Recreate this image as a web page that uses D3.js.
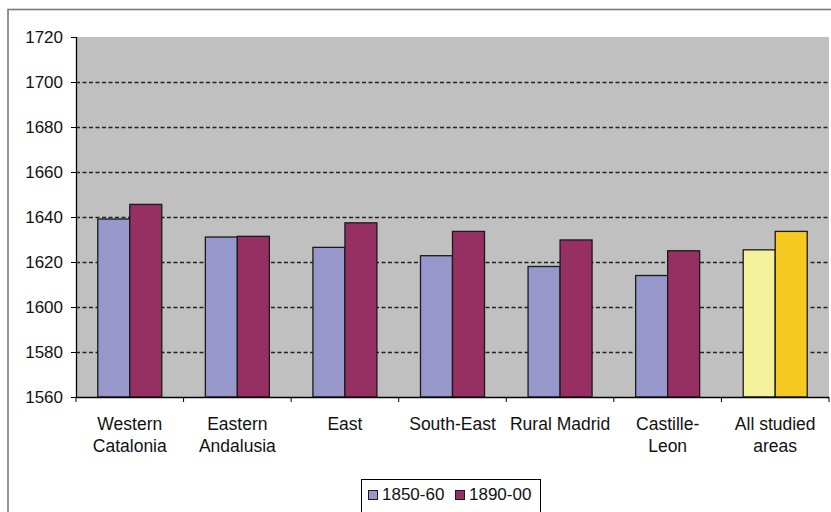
<!DOCTYPE html>
<html>
<head>
<meta charset="utf-8">
<script src="https://cdn.jsdelivr.net/npm/d3@7"></script>
<style>
  html, body { margin: 0; padding: 0; background: #fff; }
  svg { display: block; font-family: "Liberation Sans", Arial, sans-serif; }
</style>
</head>
<body>
<svg id="chart" width="831" height="512"></svg>
<script>
// Average heights by region and period
const categories = [
  ["Western", "Catalonia"],
  ["Eastern", "Andalusia"],
  ["East"],
  ["South-East"],
  ["Rural Madrid"],
  ["Castille-", "Leon"],
  ["All studied", "areas"]
];
const seriesNames = ["1850-60", "1890-00"];
const values1850 = [1639.1, 1631.1, 1626.5, 1622.8, 1618.0, 1614.0, 1625.4];
const values1890 = [1645.6, 1631.4, 1637.4, 1633.6, 1629.8, 1625.0, 1633.6];
const yTicks = [1560, 1580, 1600, 1620, 1640, 1660, 1680, 1700, 1720];

const seriesColors = ["#9797CB", "#962F62"];
const totalColors = ["#F3F19B", "#F6C921"];

const svg = d3.select("#chart");
const plot = { left: 76, right: 829, top: 37, bottom: 397 };

// Outer chart frame
svg.append("rect")
  .attr("x", 8).attr("y", 9.5)
  .attr("width", 840).attr("height", 520)
  .attr("fill", "#fff").attr("stroke", "#7a7a7a").attr("stroke-width", 1.6);

// Plot area background
svg.append("rect")
  .attr("x", plot.left).attr("y", plot.top)
  .attr("width", plot.right - plot.left).attr("height", plot.bottom - plot.top)
  .attr("fill", "#C0C0C0");

const y = d3.scaleLinear().domain([1560, 1720]).range([plot.bottom, plot.top]);
const pad = 0.405;
const x0 = d3.scaleBand()
  .domain(d3.range(categories.length))
  .range([plot.left, plot.right])
  .paddingInner(pad).paddingOuter(pad / 2);
const x1 = d3.scaleBand().domain([0, 1]).range([0, x0.bandwidth()]);

// Dashed gridlines
svg.append("g").selectAll("line")
  .data(yTicks.filter(t => t > 1560 && t < 1720))
  .join("line")
  .attr("x1", plot.left).attr("x2", plot.right)
  .attr("y1", d => y(d) + 0.5).attr("y2", d => y(d) + 0.5)
  .attr("stroke", "#222").attr("stroke-width", 1.5)
  .attr("stroke-dasharray", "4,2.5");

// Bars
const rows = categories.map((c, i) => [values1850[i], values1890[i]]);
const groups = svg.append("g").selectAll("g")
  .data(rows)
  .join("g")
  .attr("transform", (d, i) => `translate(${x0(i)},0)`);
groups.selectAll("rect")
  .data((d, i) => d.map((v, s) => ({ v, s, i })))
  .join("rect")
  .attr("x", d => x1(d.s))
  .attr("y", d => y(d.v))
  .attr("width", x1.bandwidth())
  .attr("height", d => y(1560) - y(d.v))
  .attr("fill", d => d.i === categories.length - 1 ? totalColors[d.s] : seriesColors[d.s])
  .attr("stroke", "#1a1a1a").attr("stroke-width", 1.3);

// Y axis
const yAxis = svg.append("g")
  .attr("transform", `translate(${plot.left},0)`)
  .call(d3.axisLeft(y).tickValues(yTicks).tickFormat(d3.format("d")).tickSize(5).tickPadding(8));
yAxis.select(".domain").attr("stroke", "#000").attr("stroke-width", 1.3)
  .attr("d", `M0.5,${plot.top}V${plot.bottom}`);
yAxis.selectAll(".tick line").attr("stroke", "#000");
yAxis.selectAll(".tick text").attr("font-size", 17).attr("fill", "#111")
  .attr("font-family", "Liberation Sans, Arial, sans-serif");

// X axis with ticks between categories
const step = x0.step();
const bounds = d3.range(categories.length + 1).map(i => plot.left + i * step);
const xg = svg.append("g");
xg.append("line")
  .attr("x1", plot.left).attr("x2", plot.right)
  .attr("y1", plot.bottom + 0.5).attr("y2", plot.bottom + 0.5)
  .attr("stroke", "#000").attr("stroke-width", 1.3);
xg.selectAll("line.tk").data(bounds).join("line").attr("class", "tk")
  .attr("x1", d => d).attr("x2", d => d)
  .attr("y1", plot.bottom).attr("y2", plot.bottom + 5)
  .attr("stroke", "#000");

// Category labels
const labels = svg.append("g").selectAll("text")
  .data(categories)
  .join("text")
  .attr("x", (d, i) => x0(i) + x0.bandwidth() / 2)
  .attr("y", 430)
  .attr("text-anchor", "middle")
  .attr("font-size", 17.5).attr("fill", "#111");
labels.selectAll("tspan")
  .data(d => d)
  .join("tspan")
  .attr("x", function () { return this.parentNode.getAttribute("x"); })
  .attr("dy", (d, j) => j === 0 ? 0 : 22)
  .text(d => d);

// Legend
const lg = svg.append("g");
lg.append("rect")
  .attr("x", 361.5).attr("y", 479.5).attr("width", 179).attr("height", 40)
  .attr("fill", "#fff").attr("stroke", "#000").attr("stroke-width", 1);
const legendX = [368, 455];
seriesNames.forEach((name, s) => {
  lg.append("rect")
    .attr("x", legendX[s] + 0.5).attr("y", 490.5).attr("width", 9).attr("height", 9)
    .attr("fill", seriesColors[s]).attr("stroke", "#1a1a1a").attr("stroke-width", 1);
  lg.append("text")
    .attr("x", legendX[s] + 14).attr("y", 500)
    .attr("font-size", 17).attr("fill", "#111")
    .text(name);
});
</script>
</body>
</html>
